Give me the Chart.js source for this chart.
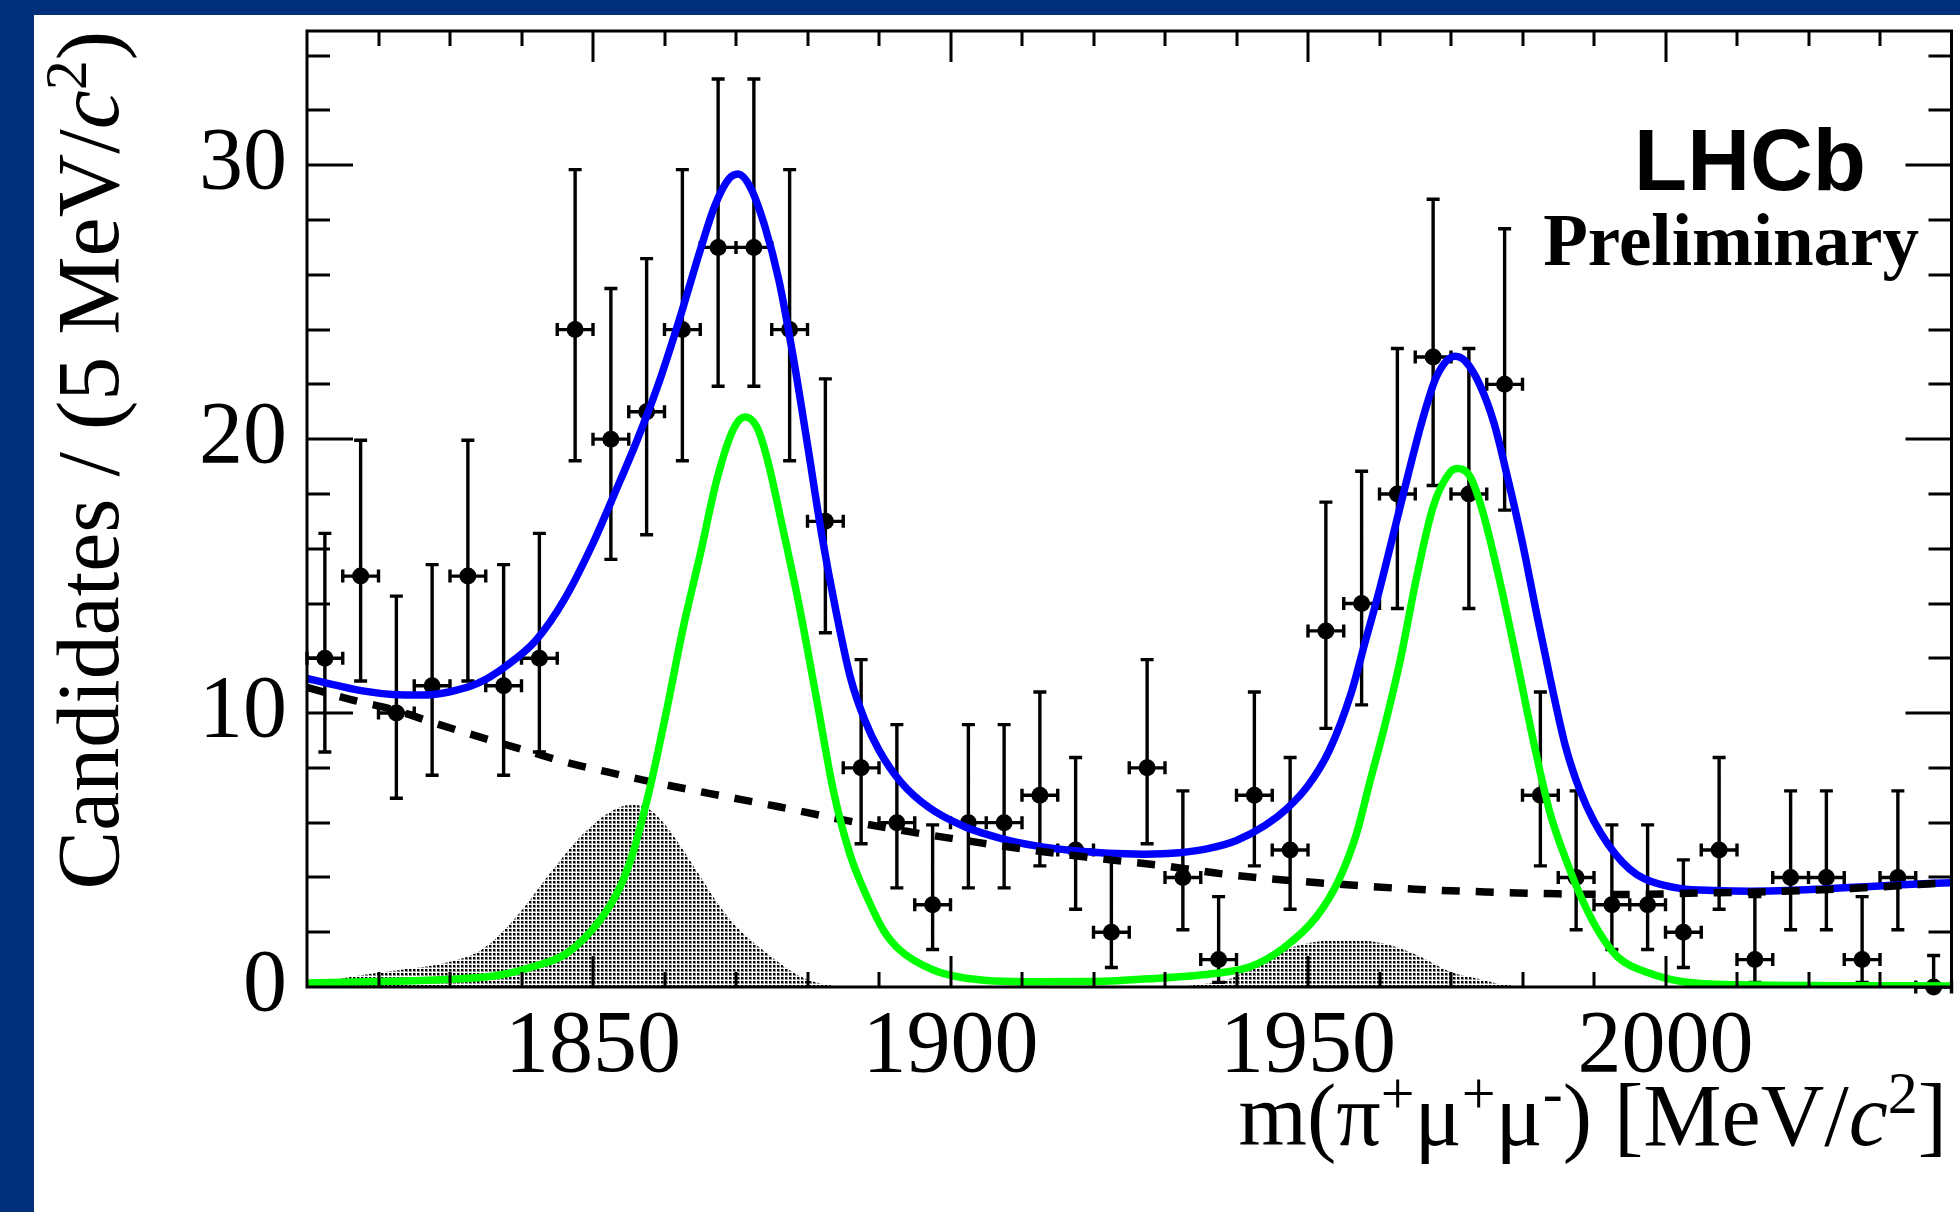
<!DOCTYPE html>
<html>
<head>
<meta charset="utf-8">
<script src="https://cdn.jsdelivr.net/npm/chart.js@4.4.1/dist/chart.umd.min.js"></script>
<style>
  html, body { margin: 0; padding: 0; background: #022f7a; }
  #wrap { position: relative; width: 1960px; height: 1212px; }
</style>
</head>
<body>
<div id="wrap"><canvas id="massPlot" width="1960" height="1212"></canvas></div>
<script>

// binned data, 5 MeV bins
const massBins = [1812.5, 1817.5, 1822.5, 1827.5, 1832.5, 1837.5, 1842.5, 1847.5, 1852.5, 1857.5,
                  1862.5, 1867.5, 1872.5, 1877.5, 1882.5, 1887.5, 1892.5, 1897.5, 1902.5, 1907.5,
                  1912.5, 1917.5, 1922.5, 1927.5, 1932.5, 1937.5, 1942.5, 1947.5, 1952.5, 1957.5,
                  1962.5, 1967.5, 1972.5, 1977.5, 1982.5, 1987.5, 1992.5, 1997.5, 2002.5, 2007.5,
                  2012.5, 2017.5, 2022.5, 2027.5, 2032.5, 2037.5];
const candidates = [12, 15, 10, 11, 15, 11, 12, 24, 20, 21,
                    24, 27, 27, 24, 17, 8, 6, 3, 6, 6,
                    7, 5, 2, 8, 4, 1, 7, 5, 13, 14,
                    18, 23, 18, 22, 7, 4, 3, 3, 2, 5,
                    1, 4, 4, 1, 4, 0];
// lower / upper ends of the (poisson) error bars
const errLow = [8.58, 11.17, 6.89, 7.73, 11.17, 7.73, 8.58, 19.21, 15.61, 16.51,
                19.21, 21.93, 21.93, 19.21, 12.93, 5.23, 3.62, 1.37, 3.62, 3.62,
                4.42, 2.84, 0.71, 5.23, 2.09, 0.17, 4.42, 2.84, 9.44, 10.30,
                13.82, 18.31, 13.82, 17.41, 4.42, 2.09, 1.37, 1.37, 0.71, 2.84,
                0.17, 2.09, 2.09, 0.17, 2.09, 0];
const errHigh = [16.56, 19.96, 14.27, 15.42, 19.96, 15.42, 16.56, 29.84, 25.50, 26.59,
                 29.84, 33.15, 33.15, 29.84, 22.20, 11.95, 9.58, 5.92, 9.58, 9.58,
                 10.77, 8.38, 4.64, 11.95, 7.16, 3.30, 10.77, 8.38, 17.70, 18.83,
                 23.31, 28.76, 23.31, 27.68, 10.77, 7.16, 5.92, 5.92, 4.64, 8.38,
                 3.30, 7.16, 7.16, 3.30, 7.16, 1.15];

// total fit (blue)
const totalMass = [1810, 1814, 1818, 1822, 1826, 1830, 1834, 1838, 1842, 1846,
                   1850, 1853, 1856, 1859, 1862, 1865, 1867, 1869, 1870.3, 1872,
                   1874, 1876, 1878, 1880, 1882, 1884, 1886, 1888, 1890, 1893,
                   1897, 1902, 1907, 1912, 1917, 1922, 1927, 1932, 1936, 1940,
                   1944, 1947, 1950, 1953, 1956, 1958, 1960, 1962, 1964, 1966,
                   1968, 1970.6, 1972, 1974, 1976, 1978, 1980, 1982, 1984, 1986,
                   1988, 1990, 1992, 1994, 1996, 1998, 2002, 2007, 2012, 2017,
                   2022, 2027, 2033, 2040];
const totalFit = [11.27, 11.02, 10.8, 10.68, 10.66, 10.78, 11.1, 11.75, 12.65, 14.15,
                  16.2, 18.0, 19.85, 21.9, 24.3, 26.9, 28.5, 29.5, 29.68, 29.2,
                  27.8, 25.8, 23.0, 19.8, 16.5, 13.7, 11.3, 9.75, 8.65, 7.5,
                  6.55, 5.85, 5.43, 5.15, 4.98, 4.88, 4.85, 4.9, 5.05, 5.35,
                  5.9, 6.5, 7.35, 8.65, 10.7, 12.6, 14.5, 16.6, 18.7, 20.7,
                  22.3, 23.03, 22.85, 22.0, 20.6, 18.5, 16.2, 13.6, 11.1, 8.8,
                  7.2, 6.05, 5.2, 4.55, 4.1, 3.85, 3.6, 3.52, 3.5, 3.52,
                  3.58, 3.65, 3.73, 3.81];

// combinatorial background (black dashed)
const combMass = [1810, 1816, 1822, 1828, 1834, 1840, 1846, 1852, 1858, 1866,
                  1876, 1885, 1894, 1904, 1913, 1922, 1930, 1938, 1947, 1956,
                  1965, 1975, 1985, 1995, 2005, 2016, 2026, 2040];
const combFit = [10.94, 10.5, 10.13, 9.62, 9.14, 8.68, 8.22, 7.85, 7.5, 7.08,
                 6.58, 6.1, 5.68, 5.27, 4.94, 4.65, 4.42, 4.13, 3.9, 3.72,
                 3.57, 3.47, 3.4, 3.38, 3.43, 3.49, 3.6, 3.81];

// signal (green)
const sigMass = [1810, 1820, 1830, 1837, 1841.6, 1846.3, 1851, 1853.8, 1855.7, 1858,
                 1860.3, 1862.6, 1865, 1867.3, 1869.7, 1871.3, 1872.9, 1874.3, 1876.6, 1878.7,
                 1881.3, 1883.6, 1885.9, 1888.3, 1890.6, 1892.9, 1897.6, 1902.2, 1911.6, 1920,
                 1927.9, 1937.2, 1941.9, 1946.5, 1951.2, 1954.3, 1956.8, 1958.6, 1960.6, 1962.9,
                 1965.2, 1967.5, 1969.9, 1971, 1972.7, 1974.5, 1976.9, 1979.2, 1981.5, 1983.8,
                 1986.3, 1988.6, 1990.8, 1993.3, 1997.8, 2002.5, 2010, 2040];
const sigFit = [0.15, 0.2, 0.28, 0.44, 0.74, 1.23, 2.45, 3.66, 5.0, 7.31,
                10.1, 13.1, 15.8, 18.5, 20.4, 20.81, 20.45, 19.35, 16.68, 14.1,
                10.47, 7.19, 4.88, 3.3, 2.08, 1.35, 0.62, 0.32, 0.19, 0.2,
                0.3, 0.5, 0.74, 1.41, 2.57, 3.9, 5.61, 7.43, 9.4, 11.93,
                14.97, 17.53, 18.8, 18.93, 18.62, 17.29, 14.73, 11.93, 9.01, 6.4,
                4.5, 3.05, 1.96, 1.1, 0.5, 0.19, 0.08, 0.04];

// misidentified backgrounds (dotted grey areas)
const misIdAMass = [1810, 1813.7, 1818, 1823, 1830, 1834.7, 1839.3, 1844, 1848.7, 1853.3,
                    1855.7, 1858, 1860.3, 1862.6, 1865, 1867.3, 1869.7, 1874.3, 1879, 1882.2, 1885];
const misIdAFit = [0.05, 0.26, 0.45, 0.62, 0.92, 1.41, 2.57, 4.15, 5.61, 6.52,
                   6.64, 6.46, 5.85, 5.0, 4.03, 3.1, 2.3, 1.23, 0.38, 0.1, 0];
const misIdBMass = [1932, 1935, 1939.6, 1944.3, 1948.9, 1952, 1955.9, 1960.6, 1965.2, 1969.9,
                    1974.5, 1977, 1980];
const misIdBFit = [0, 0.1, 0.35, 1.1, 1.53, 1.68, 1.72, 1.59, 1.17, 0.56, 0.26, 0.1, 0];

const xTickLabels = [1850, 1900, 1950, 2000];
const yTickLabels = [0, 10, 20, 30];

const serif = '"Liberation Serif", "Times New Roman", serif';
const navy = '#022f7a';

function toPoints(xs, ys) {
    let pts = [];
    for (let i = 0; i < xs.length; i++) {
        pts.push({x: xs[i], y: ys[i]});
    }
    return pts;
}

// small dot grid like the ROOT fill style
function makeDotPattern(ctx) {
    const tile = document.createElement('canvas');
    tile.width = 4;
    tile.height = 4;
    const t = tile.getContext('2d');
    t.fillStyle = '#000';
    t.fillRect(1, 1, 2, 2);
    t.fillStyle = 'rgba(0,0,0,0.45)';
    t.fillRect(3, 1, 1, 3);
    t.fillRect(1, 3, 2, 1);
    return ctx.createPattern(tile, 'repeat');
}

// text with italic / superscript pieces
function pieceFont(kind, size) {
    if (kind === 'i') return 'italic ' + size + 'px ' + serif;
    if (kind === 's') return Math.round(size * 0.68) + 'px ' + serif;
    return size + 'px ' + serif;
}
function measurePieces(ctx, pieces, size) {
    let w = 0;
    for (const p of pieces) {
        ctx.font = pieceFont(p[1], size);
        w += ctx.measureText(p[0]).width;
    }
    return w;
}
function drawPieces(ctx, pieces, size, x, y) {
    for (const p of pieces) {
        ctx.font = pieceFont(p[1], size);
        let dy = p[1] === 's' ? -size * 0.36 : 0;
        ctx.fillText(p[0], x, y + dy);
        x += ctx.measureText(p[0]).width;
    }
}

const yTitle = [['Candidates / (5 MeV/', 'n'], ['c', 'i'], ['2', 's'], [')', 'n']];
const xTitle = [['m(\u03c0', 'n'], ['+', 's'], ['\u03bc', 'n'], ['+', 's'], ['\u03bc', 'n'], ['-', 's'],
                [') [MeV/', 'n'], ['c', 'i'], ['2', 's'], [']', 'n']];

const background = {
    id: 'background',
    beforeDraw(chart) {
        const ctx = chart.ctx;
        ctx.save();
        ctx.fillStyle = navy;
        ctx.fillRect(0, 0, chart.width, chart.height);
        ctx.fillStyle = '#fff';
        ctx.fillRect(34, 15, chart.width - 34, chart.height - 15);
        ctx.restore();
    }
};

// vertical + horizontal error bars, drawn just before the markers
const errorBars = {
    id: 'errorBars',
    beforeDatasetDraw(chart, args) {
        if (args.index !== 2) return;
        const ctx = chart.ctx;
        const xs = chart.scales.x;
        const ys = chart.scales.y;
        ctx.save();
        ctx.strokeStyle = '#000';
        ctx.lineWidth = 3.4;
        ctx.beginPath();
        for (let i = 0; i < massBins.length; i++) {
            const px = xs.getPixelForValue(massBins[i]);
            const pl = xs.getPixelForValue(massBins[i] - 2.5);
            const pr = xs.getPixelForValue(massBins[i] + 2.5);
            const py = ys.getPixelForValue(candidates[i]);
            const lo = ys.getPixelForValue(errLow[i]);
            const hi = ys.getPixelForValue(errHigh[i]);
            ctx.moveTo(px, lo); ctx.lineTo(px, hi);
            ctx.moveTo(px - 6.5, lo); ctx.lineTo(px + 6.5, lo);
            ctx.moveTo(px - 6.5, hi); ctx.lineTo(px + 6.5, hi);
            ctx.moveTo(pl, py); ctx.lineTo(pr, py);
            ctx.moveTo(pl, py - 6.5); ctx.lineTo(pl, py + 6.5);
            ctx.moveTo(pr, py - 6.5); ctx.lineTo(pr, py + 6.5);
        }
        ctx.stroke();
        ctx.restore();
    }
};

// frame with inward ticks on all four sides, labels and titles
const rootAxes = {
    id: 'rootAxes',
    afterDraw(chart) {
        const ctx = chart.ctx;
        const a = chart.chartArea;
        const xs = chart.scales.x;
        const ys = chart.scales.y;
        ctx.save();
        ctx.strokeStyle = '#000';
        ctx.lineWidth = 3;
        ctx.beginPath();
        for (let v = 1820; v <= 2030; v += 10) {
            const px = Math.round(xs.getPixelForValue(v));
            const len = xTickLabels.includes(v) ? 31 : 15;
            ctx.moveTo(px, a.bottom); ctx.lineTo(px, a.bottom - len);
            ctx.moveTo(px, a.top); ctx.lineTo(px, a.top + len);
        }
        for (let v = 2; v <= 34; v += 2) {
            const py = Math.round(ys.getPixelForValue(v));
            const len = yTickLabels.includes(v) ? 46 : 23;
            ctx.moveTo(a.left, py); ctx.lineTo(a.left + len, py);
            ctx.moveTo(a.right, py); ctx.lineTo(a.right - len, py);
        }
        ctx.stroke();
        ctx.strokeRect(a.left, a.top, a.right - a.left, a.bottom - a.top);

        ctx.fillStyle = '#000';
        ctx.textBaseline = 'alphabetic';
        ctx.textAlign = 'left';

        // y title, rotated, ends at the top of the frame
        const yw = measurePieces(ctx, yTitle, 88);
        ctx.save();
        ctx.translate(118, a.top + yw);
        ctx.rotate(-Math.PI / 2);
        drawPieces(ctx, yTitle, 88, 0, 0);
        ctx.restore();

        // x title, right aligned
        const xw = measurePieces(ctx, xTitle, 88);
        drawPieces(ctx, xTitle, 88, 1947 - xw, 1145);

        ctx.textAlign = 'right';
        ctx.font = 'bold 87px "Liberation Sans", Arial, sans-serif';
        ctx.fillText('LHCb', 1866, 190);
        ctx.font = 'bold 73px ' + serif;
        ctx.fillText('Preliminary', 1919, 265);
        ctx.restore();
    }
};

const ctx = document.getElementById('massPlot').getContext('2d');
const dots = makeDotPattern(ctx);

function curve(xs, ys, color, width, order) {
    return {
        type: 'line',
        data: toPoints(xs, ys),
        borderColor: color,
        borderWidth: width,
        pointRadius: 0,
        fill: false,
        cubicInterpolationMode: 'monotone',
        order: order
    };
}

let combCurve = curve(combMass, combFit, '#000', 7.5, 4);
combCurve.borderDash = [18, 16];

const chart = new Chart(ctx, {
    type: 'scatter',
    data: {
        datasets: [
            {
                type: 'line',
                data: toPoints(misIdAMass, misIdAFit),
                borderColor: 'rgba(0,0,0,0)',
                borderWidth: 1,
                backgroundColor: dots,
                pointRadius: 0,
                fill: 'origin',
                cubicInterpolationMode: 'monotone',
                order: 10
            },
            {
                type: 'line',
                data: toPoints(misIdBMass, misIdBFit),
                borderColor: 'rgba(0,0,0,0)',
                borderWidth: 1,
                backgroundColor: dots,
                pointRadius: 0,
                fill: 'origin',
                cubicInterpolationMode: 'monotone',
                order: 10
            },
            {
                data: toPoints(massBins, candidates),
                pointRadius: 8.5,
                pointBackgroundColor: '#000',
                pointBorderColor: '#000',
                pointBorderWidth: 0,
                showLine: false,
                clip: false,
                order: 8
            },
            curve(totalMass, totalFit, '#0000ff', 7.5, 6),
            combCurve,
            curve(sigMass, sigFit, '#00ff00', 7.5, 2)
        ]
    },
    options: {
        responsive: false,
        animation: false,
        events: [],
        layout: { padding: { top: 31, right: 8, left: 0, bottom: 0 } },
        plugins: {
            legend: { display: false },
            tooltip: { enabled: false }
        },
        scales: {
            x: {
                type: 'linear',
                min: 1810,
                max: 2040,
                grid: { display: false },
                border: { display: false },
                ticks: {
                    font: { family: serif, size: 88 },
                    color: '#000',
                    padding: 0,
                    maxRotation: 0,
                    autoSkip: false,
                    callback: v => String(v)
                },
                afterBuildTicks: s => { s.ticks = xTickLabels.map(v => ({value: v})); },
                afterFit: s => { s.height = 225; s.paddingLeft = 0; s.paddingRight = 0; }
            },
            y: {
                type: 'linear',
                min: 0,
                max: 34.9,
                grid: { display: false },
                border: { display: false },
                ticks: {
                    font: { family: serif, size: 88 },
                    color: '#000',
                    padding: 12,
                    autoSkip: false,
                    callback: v => String(v)
                },
                afterBuildTicks: s => { s.ticks = yTickLabels.map(v => ({value: v})); },
                afterFit: s => { s.width = 307; s.paddingTop = 0; s.paddingBottom = 0; }
            }
        }
    },
    plugins: [background, errorBars, rootAxes]
});
</script>
</body>
</html>
